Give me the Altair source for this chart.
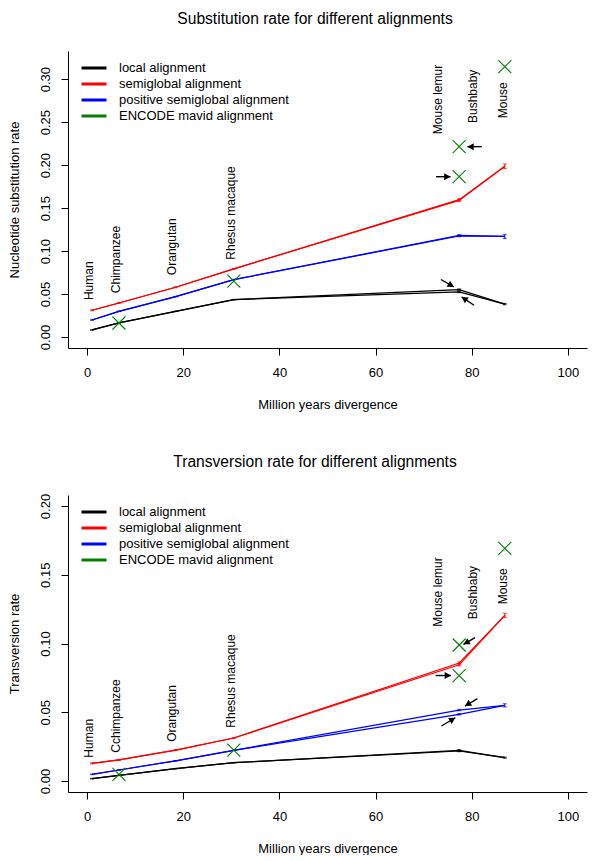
import math
import altair as alt
import pandas as pd

FONT = "Liberation Sans"

# ---------------- data ----------------
species = ["Human", "Chimpanzee", "Orangutan", "Rhesus macaque",
           "Mouse lemur", "Bushbaby", "Mouse"]
species_tv = ["Human", "Cchimpanzee", "Orangutan", "Rhesus macaque",
              "Mouse lemur", "Bushbaby", "Mouse"]
divergence = [1.0, 6.6, 18.4, 30.5, 77.4, 77.4, 86.9]

series_names = ["local alignment", "semiglobal alignment",
                "positive semiglobal alignment", "ENCODE mavid alignment"]
series_colors = ["#000000", "#FF0000", "#0000FF", "#008000"]

# substitution rate
sub_local = [0.0082, 0.0165, 0.0299, 0.0435, 0.0552, 0.0524, 0.0383]
sub_semi = [0.0311, 0.0396, 0.0579, 0.0793, 0.1598, 0.1590, 0.1986]
sub_pos = [0.0198, 0.0299, 0.0470, 0.0668, 0.1182, 0.1175, 0.1170]
sub_mavid = [None, 0.0163, None, 0.0649, 0.1865, 0.2215, 0.3145]
sub_local_err = [0.0003, 0.0003, 0.0003, 0.0003, 0.0008, 0.0008, 0.0008]
sub_semi_err = [0.0006, 0.0006, 0.0006, 0.0006, 0.0012, 0.0012, 0.0027]
sub_pos_err = [0.0003, 0.0003, 0.0003, 0.0003, 0.0008, 0.0008, 0.0025]
sub_label_x = [0.4, 6.0, 17.7, 30.0, 73.0, 80.2, 86.6]
sub_label_y = [0.043, 0.051, 0.072, 0.090, 0.236, 0.249, 0.2545]
# arrows: tail x, tail y, head x, head y
sub_arrow_tx = [82.1, 72.6, 73.6, 80.5]
sub_arrow_ty = [0.2215, 0.1865, 0.0669, 0.0369]
sub_arrow_hx = [79.1, 75.6, 76.3, 77.9]
sub_arrow_hy = [0.2215, 0.1865, 0.0583, 0.0466]

# transversion rate
tv_local = [0.0017, 0.0041, 0.0090, 0.0133, 0.0223, 0.0218, 0.0170]
tv_semi = [0.0128, 0.0153, 0.0225, 0.0313, 0.0845, 0.0858, 0.1204]
tv_pos = [0.0048, 0.0080, 0.0147, 0.0223, 0.0485, 0.0516, 0.0550]
tv_mavid = [None, 0.0048, None, 0.0225, 0.0767, 0.0989, 0.1692]
tv_local_err = [0.0002, 0.0002, 0.0002, 0.0002, 0.0005, 0.0005, 0.0004]
tv_semi_err = [0.0004, 0.0004, 0.0004, 0.0004, 0.0008, 0.0008, 0.0016]
tv_pos_err = [0.0002, 0.0002, 0.0002, 0.0002, 0.0005, 0.0005, 0.0012]
tv_label_x = [0.4, 6.0, 17.7, 30.0, 73.0, 80.2, 86.6]
tv_label_y = [0.017, 0.0206, 0.0285, 0.0388, 0.1122, 0.1176, 0.1285]
tv_arrow_tx = [80.7, 72.5, 81.2, 73.7]
tv_arrow_ty = [0.1042, 0.0767, 0.0599, 0.0400]
tv_arrow_hx = [78.3, 75.7, 78.6, 76.6]
tv_arrow_hy = [0.0994, 0.0767, 0.0545, 0.0460]

X_DOMAIN = [-4, 104]
X_TICKS = [0, 20, 40, 60, 80, 100]
W, H = 519, 297

PATH_ML = [0, 1, 2, 3, 4, 6]
PATH_BB = [0, 1, 2, 3, 5, 6]

color_scale = alt.Scale(domain=series_names, range=series_colors)


def panel(title, ytitle, ymax, yticks, local, semi, pos, errs, mavid,
          labels, label_x, label_y, atx, aty, ahx, ahy):
    ydom = [-0.04 * ymax, 1.04 * ymax]
    series_vals = [local, semi, pos]

    line_rows, err_rows, cap_rows = [], [], []
    for s, vals, err in zip(series_names[:3], series_vals, errs):
        for pname, idxs in (("ml", PATH_ML), ("bb", PATH_BB)):
            for o, i in enumerate(idxs):
                line_rows.append({"series": s, "path": pname, "order": o,
                                  "x": divergence[i], "y": vals[i]})
        for i in range(len(species)):
            lo, hi = vals[i] - err[i], vals[i] + err[i]
            err_rows.append({"series": s, "x": divergence[i], "lo": lo, "hi": hi})
            cap_rows.append({"series": s, "x": divergence[i], "y": lo})
            cap_rows.append({"series": s, "x": divergence[i], "y": hi})
    lines_df = pd.DataFrame(line_rows)
    err_df = pd.DataFrame(err_rows)
    cap_df = pd.DataFrame(cap_rows)

    mavid_df = pd.DataFrame([{"x": divergence[i], "y": v}
                             for i, v in enumerate(mavid) if v is not None])
    label_df = pd.DataFrame({"x": label_x, "y": label_y, "text": labels})

    pxx = W / (X_DOMAIN[1] - X_DOMAIN[0])
    pxy = H / (ydom[1] - ydom[0])
    angs = []
    for tx, ty, hx, hy in zip(atx, aty, ahx, ahy):
        a = math.degrees(math.atan2(-(hy - ty) * pxy, (hx - tx) * pxx)) % 360
        angs.append(a)
    arrow_df = pd.DataFrame({"tx": atx, "ty": aty, "hx": ahx, "hy": ahy, "ang": angs})

    xsc = alt.Scale(domain=X_DOMAIN, nice=False, zero=False)
    ysc = alt.Scale(domain=ydom, nice=False, zero=False)

    xaxis = alt.Axis(values=X_TICKS, tickSize=7, labelPadding=11, grid=False,
                     labelFlush=False, title="Million years divergence",
                     titleY=56, titleBaseline="middle")
    yaxis = alt.Axis(values=yticks, format=".2f", tickSize=7, labelPadding=9,
                     labelAngle=270, labelAlign="center", labelBaseline="bottom",
                     labelOverlap=False, labelFlush=False, grid=False,
                     title=ytitle, titleAngle=270, titleBaseline="bottom",
                     titleX=-47, titleY=H / 2)

    lines = alt.Chart(lines_df).mark_line(strokeWidth=1.2).encode(
        x=alt.X("x:Q", scale=xsc, axis=xaxis),
        y=alt.Y("y:Q", scale=ysc, axis=yaxis),
        color=alt.Color("series:N", scale=color_scale,
                        legend=alt.Legend(orient="none", legendX=18, legendY=9,
                                          title=None, symbolType="M-1.92,0H1.92",
                                          symbolSize=169, symbolStrokeWidth=3,
                                          labelFont=FONT, labelFontSize=13,
                                          labelColor="black", labelOffset=17,
                                          rowPadding=1, padding=0, labelLimit=400)),
        detail="path:N",
        order="order:Q",
    )
    ebars = alt.Chart(err_df).mark_rule(strokeWidth=1).encode(
        x="x:Q", y="lo:Q", y2="hi:Q",
        color=alt.Color("series:N", scale=color_scale, legend=None),
    )
    caps = alt.Chart(cap_df).mark_tick(orient="horizontal", size=4, thickness=1).encode(
        x="x:Q", y="y:Q",
        color=alt.Color("series:N", scale=color_scale, legend=None),
    )
    crosses = alt.Chart(mavid_df).mark_point(
        shape="M-1,-1L1,1M-1,1L1,-1", size=169, filled=False,
        strokeWidth=1.1, color=series_colors[3], opacity=1,
    ).encode(x="x:Q", y="y:Q")
    texts = alt.Chart(label_df).mark_text(
        angle=270, align="left", baseline="middle", font=FONT, fontSize=12,
        color="black",
    ).encode(x="x:Q", y="y:Q", text="text:N")
    shafts = alt.Chart(arrow_df).mark_rule(strokeWidth=1.4, color="black").encode(
        x="tx:Q", y="ty:Q", x2="hx:Q", y2="hy:Q")
    heads = alt.Chart(arrow_df).mark_point(
        shape="M0,0L-1,-0.55L-1,0.55Z", size=160, filled=True, color="black",
        opacity=1, strokeWidth=0,
    ).encode(x="hx:Q", y="hy:Q", angle=alt.Angle("ang:Q", scale=None))

    return alt.layer(lines, ebars, caps, crosses, shafts, heads, texts).properties(
        width=W, height=H,
        title=alt.TitleParams(text=title, font=FONT, fontSize=15.6,
                              fontWeight="normal", color="black", offset=23,
                              dx=-12.5, anchor="middle", frame="group"),
    )


top = panel("Substitution rate for different alignments",
            "Nucleotide substitution rate", 0.32,
            [0.0, 0.05, 0.10, 0.15, 0.20, 0.25, 0.30],
            sub_local, sub_semi, sub_pos,
            [sub_local_err, sub_semi_err, sub_pos_err], sub_mavid,
            species, sub_label_x, sub_label_y,
            sub_arrow_tx, sub_arrow_ty, sub_arrow_hx, sub_arrow_hy)

bottom = panel("Transversion rate for different alignments",
               "Transversion rate", 0.20,
               [0.0, 0.05, 0.10, 0.15, 0.20],
               tv_local, tv_semi, tv_pos,
               [tv_local_err, tv_semi_err, tv_pos_err], tv_mavid,
               species_tv, tv_label_x, tv_label_y,
               tv_arrow_tx, tv_arrow_ty, tv_arrow_hx, tv_arrow_hy)

chart = alt.vconcat(top, bottom, spacing=43).resolve_scale(
    y="independent", color="independent"
).resolve_legend(color="independent").properties(
    padding={"left": 0, "top": 4, "right": 4, "bottom": 0}
).configure_view(stroke=None).configure_axis(
    labelFont=FONT, labelFontSize=13, labelColor="black",
    titleFont=FONT, titleFontSize=13, titleFontWeight="normal", titleColor="black",
    domainColor="black", tickColor="black", domainWidth=1, tickWidth=1,
)

chart.save("out.html", embed_options={"renderer": "svg", "actions": False})
